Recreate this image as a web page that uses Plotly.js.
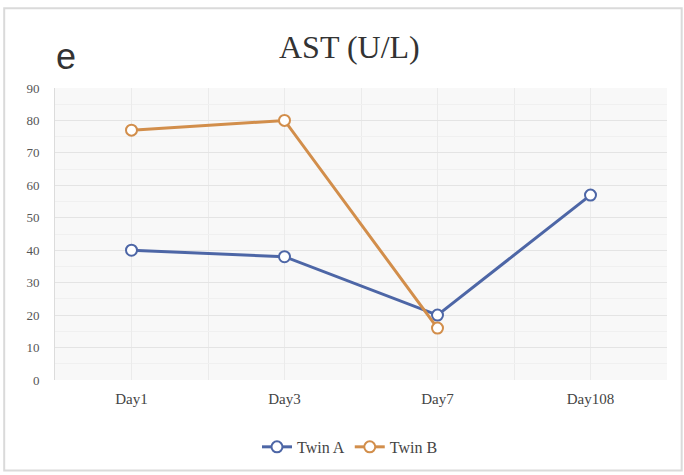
<!DOCTYPE html>
<html><head><meta charset="utf-8">
<script src="https://cdn.plot.ly/plotly-3.0.1.min.js"></script>
<style>html,body{margin:0;padding:0;background:#fff;}#chart{width:684px;height:475px;}</style>
</head><body><div id="chart"></div>
<script>
const categories = ["Day1", "Day3", "Day7", "Day108"];
const twinA = [40, 38, 20, 57];
const twinB = [77, 80, 16, null];
const yTicks = [0, 10, 20, 30, 40, 50, 60, 70, 80, 90];

const xIdx = categories.map((_, i) => i);
const serif = "Liberation Serif, Times New Roman, serif";

const traces = [
  {x: xIdx, y: twinA, name: "Twin A", mode: "lines+markers",
   line: {color: "#4d66a6", width: 3},
   marker: {symbol: "circle", size: 11, color: "#ffffff", line: {color: "#4d66a6", width: 2}}},
  {x: xIdx, y: twinB, name: "Twin B", mode: "lines+markers",
   line: {color: "#d28e4b", width: 3},
   marker: {symbol: "circle", size: 11, color: "#ffffff", line: {color: "#d28e4b", width: 2}}}
];

const layout = {
  width: 684, height: 475,
  margin: {l: 55, r: 17, t: 88, b: 94},
  paper_bgcolor: "#ffffff",
  plot_bgcolor: "#f8f8f8",
  font: {family: serif, color: "#444", size: 14},
  title: {text: "AST (U/L)", xref: "paper", x: 0.481, xanchor: "center", y: 0.901, yanchor: "middle",
          font: {family: serif, size: 32, color: "#333"}},
  xaxis: {
    range: [-0.5, 3.5], tickmode: "array", tickvals: xIdx, ticktext: categories,
    showgrid: true, gridcolor: "#ebebeb", zeroline: false, showline: false, ticks: "",
    ticklabelstandoff: 8,
    minor: {dtick: 1, tick0: 0.5, showgrid: true, gridcolor: "#ebebeb"},
    tickfont: {family: serif, size: 15, color: "#444"}
  },
  yaxis: {
    range: [0, 90], tickmode: "array", tickvals: yTicks,
    showgrid: true, gridcolor: "#e4e4e4", zeroline: false, showline: true, linecolor: "#dcdcdc",
    mirror: false, ticks: "", ticklabelstandoff: 12,
    tickfont: {family: serif, size: 13, color: "#555"},
    minor: {dtick: 5, showgrid: true, gridcolor: "#f0f0f0"}
  },
  showlegend: true,
  legend: {orientation: "h", x: 0.482, xanchor: "center", y: -0.225, yanchor: "middle",
           font: {family: serif, size: 16, color: "#444"}},
  annotations: [
    {text: "e", xref: "paper", yref: "paper", x: 0.018, y: 1.109, xanchor: "center", yanchor: "middle",
     showarrow: false, font: {family: "Liberation Sans, Arial, sans-serif", size: 36, color: "#333"}}
  ],
  shapes: [
    {type: "rect", xref: "paper", yref: "paper", x0: -0.083, x1: 1.024, y0: -0.31, y1: 1.273,
     line: {color: "#dadada", width: 2}, fillcolor: "rgba(0,0,0,0)", layer: "below"}
  ]
};

Plotly.newPlot("chart", traces, layout, {displayModeBar: false, staticPlot: true});
</script></body></html>
